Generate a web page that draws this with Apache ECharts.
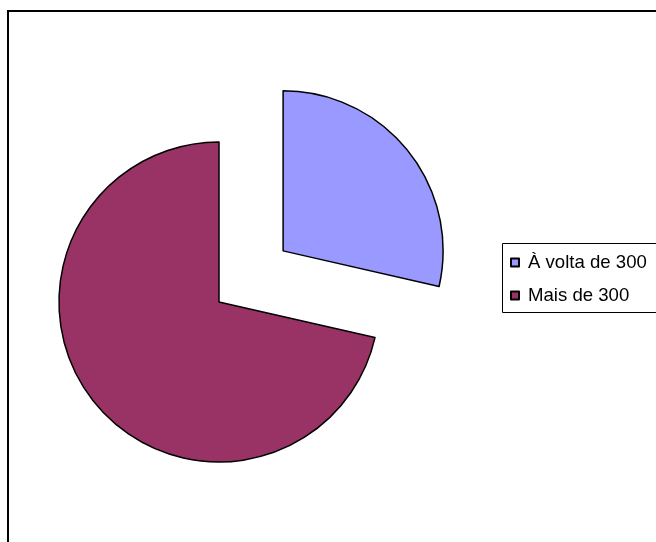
<!DOCTYPE html>
<html>
<head>
<meta charset="utf-8">
<script src="https://cdn.jsdelivr.net/npm/echarts@6/dist/echarts.min.js"></script>
<style>html,body{margin:0;padding:0;background:#fff}#c{width:656px;height:542px}</style>
</head>
<body>
<div id="c"></div>
<script>
var categories = ['À volta de 300', 'Mais de 300'];
var values = [2, 5];
var colors = ['#9999FF', '#993366'];

var chart = echarts.init(document.getElementById('c'), null, {renderer: 'canvas'});
chart.setOption({
  animation: false,
  backgroundColor: '#ffffff',
  graphic: [
    {type: 'rect', shape: {x: 8, y: 11, width: 700, height: 600}, style: {fill: 'none', stroke: '#000', lineWidth: 2}, z: 0},
    {type: 'rect', shape: {x: 502.5, y: 243.5, width: 200, height: 69}, style: {fill: '#fff', stroke: '#000', lineWidth: 1}, z: 1}
  ],
  legend: {
    orient: 'vertical',
    left: 510,
    top: 253,
    padding: 0,
    itemWidth: 8,
    itemHeight: 8,
    itemGap: 14,
    icon: 'rect',
    z: 5,
    textStyle: {fontFamily: 'Liberation Sans', fontSize: 18.6, lineHeight: 18, color: '#000', padding: [0, 0, 0, 4]},
    data: categories
  },
  series: [{
    type: 'pie',
    center: [219, 302],
    radius: 160,
    startAngle: 90,
    clockwise: true,
    selectedMode: 'single',
    selectedOffset: 82,
    label: {show: false},
    labelLine: {show: false},
    emphasis: {disabled: true},
    itemStyle: {borderColor: '#000', borderWidth: 1.5},
    data: categories.map(function (c, i) {
      return {name: c, value: values[i], selected: i === 0, itemStyle: {color: colors[i]}};
    })
  }]
});
</script>
</body>
</html>
